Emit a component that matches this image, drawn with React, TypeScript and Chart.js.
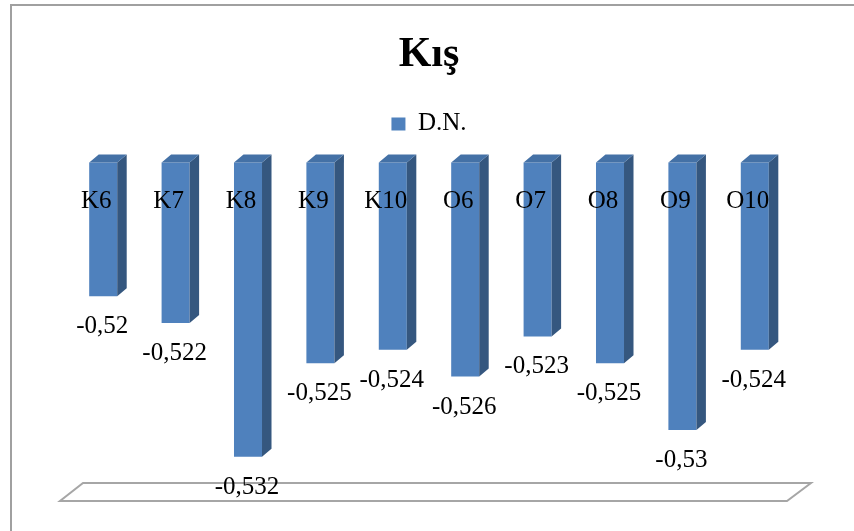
import React, { useEffect, useRef } from "react";
import { Chart, registerables } from "chart.js";

Chart.register(...registerables);

const categories = ["K6", "K7", "K8", "K9", "K10", "O6", "O7", "O8", "O9", "O10"];
const values = [-0.52, -0.522, -0.532, -0.525, -0.524, -0.526, -0.523, -0.525, -0.53, -0.524];
const seriesName = "D.N.";
const titleText = "Kış";
const axisTop = -0.51;
const axisBottom = -0.535;

const FRONT = "#4F81BD";
const SIDE = "#35577F";
const TOP = "#4471A6";
const DX = 9.5;
const DY = 8;

const fmt = (v: number) => String(v).replace(".", ",");

const bar3d = {
  id: "bar3d",
  beforeDatasetsDraw(chart: any) {
    const { ctx, chartArea } = chart;
    const l = chartArea.left;
    const r = chartArea.right;
    const b = chartArea.bottom;
    ctx.save();
    ctx.beginPath();
    ctx.moveTo(l + 16, b - 14);
    ctx.lineTo(r + 20, b - 14);
    ctx.lineTo(r - 4, b + 4);
    ctx.lineTo(l - 7, b + 4);
    ctx.closePath();
    ctx.fillStyle = "#FFFFFF";
    ctx.fill();
    ctx.lineWidth = 2;
    ctx.strokeStyle = "#A6A6A6";
    ctx.stroke();
    ctx.restore();
  },
  afterDatasetsDraw(chart: any) {
    const { ctx } = chart;
    const meta = chart.getDatasetMeta(0);
    ctx.save();
    meta.data.forEach((el: any, i: number) => {
      const p = el.getProps(["x", "y", "base", "width"], true);
      const left = p.x - p.width / 2;
      const right = p.x + p.width / 2;
      const top = Math.min(p.y, p.base);
      const bottom = Math.max(p.y, p.base);
      // side face
      ctx.fillStyle = SIDE;
      ctx.beginPath();
      ctx.moveTo(right, top);
      ctx.lineTo(right + DX, top - DY);
      ctx.lineTo(right + DX, bottom - DY);
      ctx.lineTo(right, bottom);
      ctx.closePath();
      ctx.fill();
      // top face
      ctx.fillStyle = TOP;
      ctx.beginPath();
      ctx.moveTo(left, top);
      ctx.lineTo(left + DX, top - DY);
      ctx.lineTo(right + DX, top - DY);
      ctx.lineTo(right, top);
      ctx.closePath();
      ctx.fill();
      // labels
      ctx.fillStyle = "#000000";
      ctx.font = "25px 'Liberation Serif'";
      ctx.textAlign = "center";
      ctx.textBaseline = "alphabetic";
      ctx.fillText(categories[i], p.x - 7, top + 46);
      ctx.fillText(fmt(values[i]), p.x - 1, bottom + 37);
    });
    ctx.restore();
  },
};

export default function App() {
  const ref = useRef<HTMLCanvasElement | null>(null);
  useEffect(() => {
    if (!ref.current) return;
    Chart.defaults.font.family = "'Liberation Serif'";
    const chart = new Chart(ref.current, {
      type: "bar",
      data: {
        labels: categories,
        datasets: [
          {
            label: seriesName,
            data: values.map((v) => [axisTop, v]) as any,
            backgroundColor: FRONT,
            borderWidth: 0,
            barPercentage: 1,
            categoryPercentage: 0.387,
          },
        ],
      },
      options: {
        animation: false,
        responsive: false,
        layout: { padding: { left: 67, right: 63, top: 0, bottom: 34 } },
        scales: {
          x: { display: false },
          y: { display: false, min: axisBottom, max: -0.5088 },
        },
        plugins: {
          tooltip: { enabled: false },
          title: {
            display: true,
            text: titleText,
            color: "#000000",
            font: { family: "'Liberation Serif'", size: 42, weight: "bold" },
            padding: { top: 30, bottom: 21 },
          },
          legend: {
            display: true,
            labels: {
              color: "#000000",
              boxWidth: 14,
              boxHeight: 13,
              padding: 10,
              font: { family: "'Liberation Serif'", size: 25 },
            },
          },
        },
      },
      plugins: [bar3d],
    });
    return () => chart.destroy();
  }, []);
  return (
    <div
      style={{
        position: "fixed",
        left: 0,
        top: 0,
        width: 854,
        height: 531,
        overflow: "hidden",
        background: "#FFFFFF",
      }}
    >
      <div
        style={{
          position: "absolute",
          left: 10,
          top: 4,
          width: 900,
          height: 600,
          border: "2px solid #A0A0A0",
        }}
      />
      <canvas ref={ref} width={854} height={531} style={{ position: "absolute", left: 0, top: 0 }} />
    </div>
  );
}
